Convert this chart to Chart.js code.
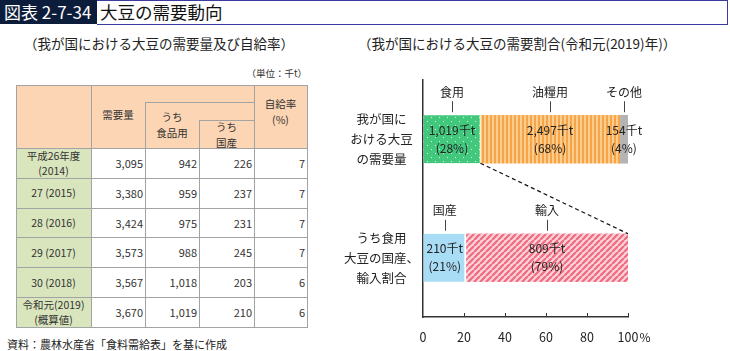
<!DOCTYPE html>
<html lang="ja">
<head>
<meta charset="utf-8">
<script src="https://cdn.jsdelivr.net/npm/chart.js@4/dist/chart.umd.min.js"></script>
<style>
body{margin:0;width:730px;height:351px;position:relative;overflow:hidden;background:#fff;font-family:"Noto Sans CJK JP","Noto Sans",sans-serif;color:#222}
.abs{position:absolute;white-space:nowrap}
.c{position:absolute;display:flex;align-items:center;justify-content:center;flex-direction:column;text-align:center;font-size:10.5px;line-height:16px;color:#333}
.n{position:absolute;display:flex;align-items:center;justify-content:flex-end;font-size:11px;color:#333;padding-right:2px;box-sizing:border-box}
.ln{position:absolute;background:#a3a3a3}
#chart{position:absolute;left:330px;top:0}
</style>
</head>
<body>
<div class="abs" style="left:0;top:0;width:97px;height:24px;background:#0c1d3b"></div>
<div class="abs" style="left:97px;top:0;width:630px;height:23px;border:1px solid #3a3aa0;border-left:none"></div>
<div class="abs" style="left:4px;top:0;line-height:24px;font-size:17px;color:#fff">図表 2-7-34</div>
<div class="abs" style="left:100px;top:0;line-height:24px;font-size:17.5px;color:#111">大豆の需要動向</div>
<div class="abs" style="left:24px;top:33px;font-size:13.5px;color:#222">（我が国における大豆の需要量及び自給率）</div>
<div class="abs" style="left:358px;top:33px;font-size:13.5px;color:#222">（我が国における大豆の需要割合(令和元(2019)年)）</div>
<div class="abs" style="right:423px;top:66px;font-size:9.5px;color:#333">（単位：千t）</div>
<div class="abs" style="left:7px;top:336px;font-size:11px;color:#222">資料：農林水産省「食料需給表」を基に作成</div>
<div id="tbl"></div>
<canvas id="chart" width="400" height="351"></canvas>
<script>
// table data (千t, %)
const years = [['平成26年度', '(2014)'], ['27 (2015)'], ['28 (2016)'], ['29 (2017)'], ['30 (2018)'], ['令和元(2019)', '(概算値)']];
const demand = [3095, 3380, 3424, 3573, 3567, 3670];
const foodUse = [942, 959, 975, 988, 1018, 1019];
const domestic = [226, 237, 231, 245, 203, 210];
const selfRate = [7, 7, 7, 7, 6, 6];

// chart data
const rowLabels = [['我が国に', 'おける大豆', 'の需要量'], ['うち食用', '大豆の国産、', '輸入割合']];
const useNames = ['食用', '油糧用', 'その他'];
const useAmounts = [1019, 2497, 154];
const useShares = [28, 68, 4];
const originNames = ['国産', '輸入'];
const originAmounts = [210, 809];
const originShares = [21, 79];
const xTicks = [0, 20, 40, 60, 80, 100];

function fmt(v) { return v.toLocaleString('en-US'); }

// ---- table ----
const tbl = document.getElementById('tbl');
const xs = [16, 91, 145, 199, 254, 307];
const top0 = 85, headBottom = 148, rowH = 29.83;
function box(cls, x, y, w, h, html, style) {
    const d = document.createElement('div');
    d.className = cls;
    d.style.left = x + 'px'; d.style.top = y + 'px';
    d.style.width = w + 'px'; d.style.height = h + 'px';
    if (style) d.style.cssText += style;
    if (html != null) d.innerHTML = html;
    tbl.appendChild(d);
    return d;
}
function line(x, y, w, h) { box('ln', x, y, w, h); }

const bodyBottom = headBottom + rowH * years.length;
box('abs', xs[0], top0, xs[5] - xs[0], headBottom - top0, null, 'background:#fcd5b4');
box('abs', xs[0], headBottom, xs[1] - xs[0], bodyBottom - headBottom, null, 'background:#d9e5bd');

// header text
box('c', xs[1], top0, xs[2] - xs[1], headBottom - top0, '<div>需要量</div>', 'padding-bottom:4px;box-sizing:border-box');
box('c', xs[2], 102, xs[3] - xs[2], headBottom - 102, '<div>うち</div><div>食品用</div>');
box('c', xs[3], 120, xs[4] - xs[3], headBottom - 120, '<div>うち</div><div>国産</div>', 'padding-top:2px;box-sizing:border-box');
box('c', xs[4], top0, xs[5] - xs[4], headBottom - top0, '<div>自給率</div><div>(%)</div>', 'padding-bottom:10px;box-sizing:border-box');

// body
years.forEach((y, i) => {
    const ty = headBottom + i * rowH;
    box('c', xs[0], ty, xs[1] - xs[0], rowH, y.map(s => '<div>' + s + '</div>').join(''), 'line-height:15px');
    box('n', xs[1], ty, xs[2] - xs[1], rowH, fmt(demand[i]));
    box('n', xs[2], ty, xs[3] - xs[2], rowH, fmt(foodUse[i]));
    box('n', xs[3], ty, xs[4] - xs[3], rowH, fmt(domestic[i]));
    box('n', xs[4], ty, xs[5] - xs[4], rowH, fmt(selfRate[i]));
    if (i > 0) line(xs[0], ty, xs[5] - xs[0], 1);
});

// grid lines
line(xs[0], top0, xs[5] - xs[0] + 1, 1);
line(xs[0], headBottom, xs[5] - xs[0], 1);
line(xs[0], bodyBottom, xs[5] - xs[0] + 1, 1);
line(xs[0], top0, 1, bodyBottom - top0);
line(xs[5], top0, 1, bodyBottom - top0);
line(xs[1], top0, 1, bodyBottom - top0);
line(xs[4], top0, 1, bodyBottom - top0);
line(xs[2], 102, 1, bodyBottom - 102);
line(xs[3], 120, 1, bodyBottom - 120);
line(xs[2], 102, xs[4] - xs[2], 1);
line(xs[3], 120, xs[4] - xs[3], 1);

// ---- patterns ----
function makePattern(w, h, draw) {
    const c = document.createElement('canvas');
    c.width = w; c.height = h;
    const g = c.getContext('2d');
    draw(g);
    return g.createPattern(c, 'repeat');
}
const greenDots = makePattern(8, 8, g => {
    g.fillStyle = '#42c87c'; g.fillRect(0, 0, 8, 8);
    g.fillStyle = '#d8f3e2';
    g.fillRect(1, 1, 1, 1); g.fillRect(5, 5, 1, 1);
});
const orangeStripes = makePattern(4, 4, g => {
    g.fillStyle = '#fccd8c'; g.fillRect(0, 0, 4, 4);
    g.fillStyle = '#f6a449'; g.fillRect(0, 0, 2, 4);
});
const redHatch = makePattern(6, 6, g => {
    g.fillStyle = '#fbd3d9'; g.fillRect(0, 0, 6, 6);
    g.strokeStyle = '#f06a80'; g.lineWidth = 2.2;
    g.beginPath();
    for (let k = -6; k <= 12; k += 6) { g.moveTo(k, 6); g.lineTo(k + 6, 0); }
    g.stroke();
});

const useFills = [greenDots, orangeStripes, '#b4b4b4'];
const originFills = ['#a9ddf5', redHatch];

const datasets = [];
useNames.forEach((n, i) => datasets.push({
    label: n, data: [useShares[i], null], amount: useAmounts[i], backgroundColor: useFills[i],
    borderColor: '#fff', borderWidth: { right: i === 0 ? 1 : 0 }, borderSkipped: false
}));
originNames.forEach((n, i) => datasets.push({
    label: n, data: [null, originShares[i]], amount: originAmounts[i], backgroundColor: originFills[i],
    borderColor: '#fff', borderWidth: { right: i === 0 ? 2 : 0 }, borderSkipped: false
}));

const jp = '"Noto Sans CJK JP", sans-serif';

const decor = {
    id: 'decor',
    afterDatasetsDraw(chart) {
        const ctx = chart.ctx;
        const xs = chart.scales.x;
        const area = chart.chartArea;
        ctx.save();
        ctx.font = '12px ' + jp;
        ctx.textAlign = 'center';
        ctx.textBaseline = 'middle';
        chart.data.datasets.forEach((ds, di) => {
            const row = ds.data[0] != null ? 0 : 1;
            const el = chart.getDatasetMeta(di).data[row];
            const cx = (el.x + el.base) / 2;
            const topY = el.y - el.height / 2;
            const pct = ds.data[row];
            ctx.fillStyle = '#222';
            ctx.fillText(fmt(ds.amount) + '千t', cx, el.y - 9);
            ctx.fillText('(' + pct + '%)', cx, el.y + 9);
            ctx.fillText(ds.label, cx, topY - 23);
            ctx.strokeStyle = '#444'; ctx.lineWidth = 1;
            ctx.beginPath();
            ctx.moveTo(Math.round(cx) + 0.5, topY - 14);
            ctx.lineTo(Math.round(cx) + 0.5, topY - 3);
            ctx.stroke();
        });
        // dashed connector
        const food = chart.getDatasetMeta(0).data[0];
        const imp = chart.getDatasetMeta(4).data[1];
        ctx.setLineDash([4, 3]);
        ctx.strokeStyle = '#111'; ctx.lineWidth = 1.2;
        ctx.beginPath();
        ctx.moveTo(food.x, food.y + food.height / 2);
        ctx.lineTo(xs.getPixelForValue(100), imp.y - imp.height / 2);
        ctx.stroke();
        ctx.setLineDash([]);
        // inward tick marks
        ctx.strokeStyle = '#333'; ctx.lineWidth = 1;
        xTicks.forEach(v => {
            if (v === 0) return;
            const px = Math.round(xs.getPixelForValue(v)) + 0.5;
            ctx.beginPath();
            ctx.moveTo(px, area.bottom);
            ctx.lineTo(px, area.bottom - 4);
            ctx.stroke();
        });
        // percent sign after last tick label
        ctx.fillStyle = '#222';
        ctx.font = '12px ' + jp;
        ctx.fillText('%', xs.getPixelForValue(100) + 17, 337);
        ctx.restore();
    }
};

new Chart(document.getElementById('chart'), {
    type: 'bar',
    data: { labels: rowLabels, datasets: datasets },
    options: {
        indexAxis: 'y',
        responsive: false,
        animation: false,
        devicePixelRatio: 1,
        barThickness: 48,
        layout: { padding: { left: 0, right: 102, top: 80, bottom: 0 } },
        plugins: { legend: { display: false }, tooltip: { enabled: false } },
        scales: {
            x: {
                stacked: true, min: 0, max: 100,
                afterBuildTicks: s => { s.ticks = xTicks.map(v => ({ value: v })); },
                afterFit: s => { s.height = 32; },
                grid: { drawOnChartArea: false, drawTicks: false },
                border: { color: '#333', width: 1.5 },
                ticks: { padding: 13, color: '#222', font: { family: jp, size: 12.5 }, maxRotation: 0 }
            },
            y: {
                stacked: true,
                afterFit: s => { s.width = 93; },
                grid: { drawOnChartArea: false, drawTicks: false },
                border: { color: '#333', width: 1.5 },
                ticks: { crossAlign: 'center', padding: 4, color: '#222', font: { family: jp, size: 12.5, lineHeight: 1.6 } }
            }
        }
    },
    plugins: [decor]
});
</script>
</body>
</html>
